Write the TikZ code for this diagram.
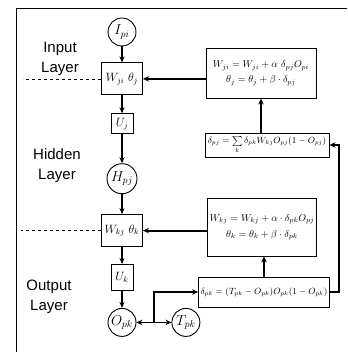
\documentclass[tikz,border=0pt]{standalone}
\usepackage{fontspec}
\setsansfont{Liberation Sans}
\usepackage{tikz}
\usetikzlibrary{arrows.meta, positioning, calc}

\begin{document}
\begin{tikzpicture}[x=1pt, y=-1pt,
    unit/.style={circle, draw, line width=0.9pt, minimum size=28pt, inner sep=0pt, font=\Large},
    wbox/.style={rectangle, draw, line width=0.9pt, minimum width=41pt, minimum height=32pt, inner sep=1pt, font=\large},
    ubox/.style={rectangle, draw, line width=0.9pt, minimum width=22pt, minimum height=22pt, inner sep=1pt, font=\large},
    rule/.style={rectangle, draw, line width=0.9pt, align=center, inner sep=2pt},
    layer/.style={align=center, font=\fontsize{15}{20}\selectfont\sffamily},
    link/.style={line width=1.2pt, -{Stealth[length=6pt, width=5pt]}},
    feed/.style={line width=1.8pt, -{Stealth[length=6pt, width=5.5pt]}}]
    \useasboundingbox (0,0) rectangle (347,352);
    \draw[line width=0.9pt] (347,8) -- (16,8) -- (16,352);

    % network column
    \node[unit] (in) at (122,32) {$I_{pi}$};
    \node[wbox] (wj) [below=16pt of in] {$W_{ji}\ \theta_j$};
    \node[ubox, minimum height=20pt] (uj) [below=18pt of wj] {$U_j$};
    \node[unit, minimum size=30pt] (hid) [below=29pt of uj] {$H_{pj}$};
    \node[wbox] (wk) [below=20pt of hid] {$W_{kj}\ \theta_k$};
    \node[ubox, minimum height=26pt] (uk) [below=17pt of wk] {$U_k$};
    \node[unit] (out) [below=17pt of uk] {$O_{pk}$};
    \node[unit] (tgt) [right=35pt of out] {$T_{pk}$};
    \coordinate (jn) at ($(out.east)!0.5!(tgt.west)$);

    % update rules
    \node[rule, minimum width=110pt, minimum height=50pt] (updj) at (261,73)
        {$W_{ji}=W_{ji}+\alpha\ \delta_{pj}O_{pi}$\\[3pt] $\theta_j=\theta_j+\beta\cdot\delta_{pj}$};
    \node[rule, minimum width=124pt, minimum height=24pt, font=\small] (dj) at (267,145)
        {$\delta_{pj}=\sum\limits_k\delta_{pk}W_{kj}O_{pj}(1-O_{pj})$};
    \node[rule, minimum width=102pt, minimum height=58pt] (updk) at (262,227)
        {$W_{kj}=W_{kj}+\alpha\cdot\delta_{pk}O_{pj}$\\[4pt] $\theta_k=\theta_k+\beta\cdot\delta_{pk}$};
    \node[rule, minimum width=129pt, minimum height=30pt, font=\small] (dk) at (264,292)
        {$\delta_{pk}=(T_{pk}-O_{pk})O_{pk}(1-O_{pk})$};

    % layer labels
    \node[layer] (lin) at (60,59) {Input\\Layer};
    \node[layer] (lhid) at (57,166) {Hidden\\Layer};
    \node[layer] (lout) at (49,297) {Output\\Layer};
    \draw[dashed, line width=0.7pt] (wj.west) -- ++(-78,0);
    \draw[dashed, line width=0.7pt] (wk.west) -- ++(-80,0);

    \draw[link] (in) -- (wj);
    \draw[link] (wj) -- (uj);
    \draw[link] (uj) -- (hid);
    \draw[link] (hid) -- (wk);
    \draw[link] (wk) -- (uk);
    \draw[link] (uk) -- (out);
    \draw[feed, {Stealth[length=6pt, width=5.5pt]}-{Stealth[length=6pt, width=5.5pt]}] (out) -- (tgt);
    \draw[feed] (jn) |- (dk.west);
    \draw[feed] (dk.east) -- ++(9,0) |- (dj.east);
    \draw[feed] (dk.north) -- (dk.north |- updk.south);
    \draw[feed] (dj.north -| updj.south) -- (updj.south);
    \draw[feed] (updk.west |- wk.east) -- (wk.east);
    \draw[feed] (updj.west |- wj.east) -- (wj.east);
\end{tikzpicture}
\end{document}
